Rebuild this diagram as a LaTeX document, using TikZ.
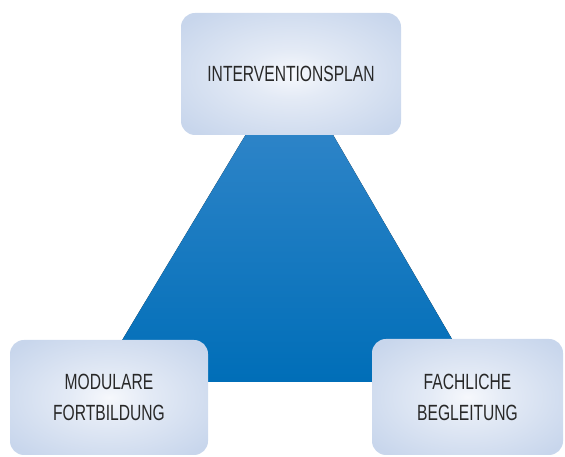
\documentclass[tikz,border=0pt]{standalone}
\usepackage{fontspec}
\setmainfont{Liberation Sans}[FakeStretch=0.71]
\usetikzlibrary{positioning}
\definecolor{planblue}{RGB}{200,214,236}
\definecolor{planglow}{RGB}{246,248,252}
\definecolor{trianglelight}{RGB}{58,138,204}
\definecolor{triangledark}{RGB}{0,110,184}
\definecolor{labelgray}{RGB}{40,40,40}
% soft glow in the middle of each box
\pgfdeclareradialshading{boxglow}{\pgfpoint{0bp}{0bp}}{color(0bp)=(planglow); color(10bp)=(planglow!60!planblue); color(32bp)=(planblue); color(50bp)=(planblue)}

\begin{document}
\begin{tikzpicture}[x=1pt, y=1pt,
    box/.style={rectangle, rounded corners=14pt, shade, shading=boxglow,
        minimum width=220pt, minimum height=122pt, inner sep=0pt,
        text=labelgray, font=\fontsize{22}{31}\selectfont, align=center}]
\useasboundingbox (0,0) rectangle (565,457);
% Draw the blue triangle behind the three boxes
\fill[top color=trianglelight, bottom color=triangledark] (97,75) -- (290,396) -- (477,75) -- cycle;
% Draw the three corner boxes
\node[box] (plan) at (291,383) {INTERVENTIONSPLAN};
\node[box, minimum width=198pt, minimum height=115pt] (modul) at (109,59.5) {MODULARE\\FORTBILDUNG};
\node[box, minimum width=191pt, minimum height=116pt] (begleit) at (467.5,60) {FACHLICHE\\BEGLEITUNG};
\end{tikzpicture}
\end{document}
